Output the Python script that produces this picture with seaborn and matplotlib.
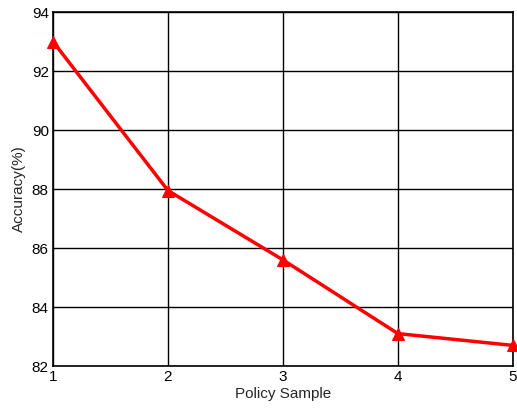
import matplotlib
matplotlib.use('Agg')
import pandas as pd
import seaborn as sns
import matplotlib.pyplot as plt

# Datos
policy_sample = [1, 2, 3, 4, 5]
accuracy = [93.0, 87.95, 85.6, 83.1, 82.7]

datos = pd.DataFrame({'Policy Sample': policy_sample, 'Accuracy': accuracy})

sns.set_style('white')
plt.rcParams['font.family'] = ['Liberation Sans', 'DejaVu Sans']

fig = plt.figure(figsize=(5.17, 4.09), dpi=100)
ax = fig.add_axes([0.1025, 0.105, 0.8895, 0.8655])

sns.lineplot(x='Policy Sample', y='Accuracy', data=datos, color='#ff0000',
             linewidth=2.5, marker='^', markersize=8, markeredgecolor='#ff0000',
             ax=ax, zorder=3, clip_on=False)

ax.set_xlim(1, 5)
ax.set_ylim(82, 94)
ax.set_xticks(policy_sample)
ax.set_yticks(range(82, 95, 2))
ax.grid(True, color='black', linewidth=1)
for s in ax.spines.values():
    s.set_color('black')
    s.set_linewidth(1.2)
ax.tick_params(labelsize=11, length=0, pad=3, colors='black')
ax.set_xlabel('Policy Sample', fontsize=11, labelpad=2)
ax.set_ylabel('Accuracy(%)', fontsize=11, labelpad=4)

fig.savefig('out.png', dpi=100)
